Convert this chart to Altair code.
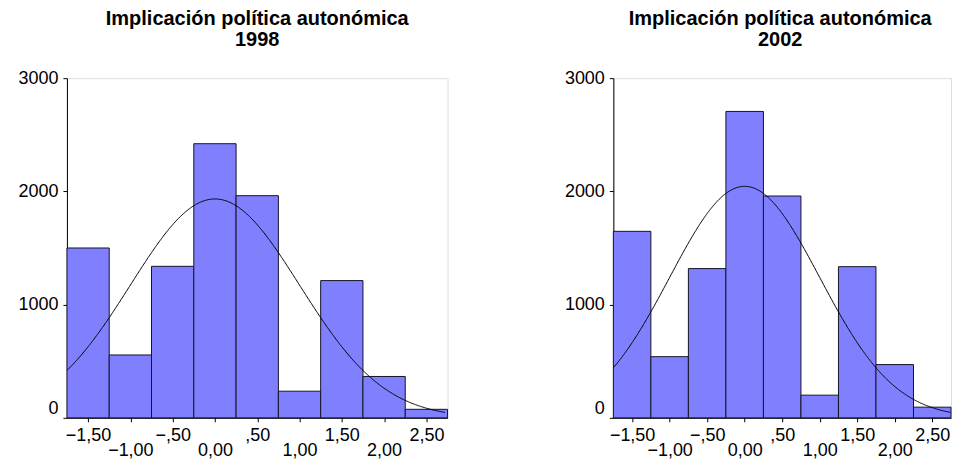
import altair as alt
import pandas as pd

# ---- data ----
bin_centers = [-1.5, -1.0, -0.5, 0.0, 0.5, 1.0, 1.5, 2.0, 2.5]
counts_1998 = [1500, 555, 1338, 2421, 1962, 235, 1212, 365, 75]
counts_2002 = [1647, 540, 1318, 2706, 1959, 200, 1335, 470, 94]
years = ["1998", "2002"]
title_text = "Implicación política autonómica"
y_ticks = [0, 1000, 2000, 3000]
x_ticks = [-1.5, -1.0, -0.5, 0.0, 0.5, 1.0, 1.5, 2.0, 2.5]
# fitted normal curves (N, mean, sd) read from the overlay
curve_n = [9690, 10250]
curve_mean = [0.0, 0.0]
curve_sd = [1.0, 1.0]
curve_end = [2.72, 2.75]

FONT = "Liberation Sans"
BIN_W = 0.5


def panel(counts, year, n, mu, sd, x_end, width, dx):
    df = pd.DataFrame({"center": bin_centers, "count": counts})
    xscale = alt.Scale(domain=[-1.75, 2.75], nice=False, zero=False)
    yscale = alt.Scale(domain=[0, 3000], nice=False, zero=True)
    xaxis = alt.Axis(
        values=x_ticks,
        title=None,
        grid=False,
        tickSize=4,
        tickColor="black",
        domainColor="black",
        labelColor="black",
        labelFont=FONT,
        labelFontSize=18,
        labelFlush=False,
        labelOverlap=False,
        labelBaseline="top",
        labelPadding={
            "condition": {
                "test": "abs(datum.value - round(datum.value)) < 0.01",
                "value": 20,
            },
            "value": 5,
        },
        labelExpr="datum.value == 0 ? '0,00' : replace(replace(format(datum.value, '.2f'), '0.', '.'), '.', ',')",
    )
    yaxis = alt.Axis(
        values=y_ticks,
        format="d",
        title=None,
        grid=False,
        tickSize=4,
        tickColor="black",
        domainColor="black",
        labelColor="black",
        labelFont=FONT,
        labelFontSize=18,
        labelPadding=5,
        labelFlush=False,
        labelBaseline={
            "condition": {"test": "datum.value == 0", "value": "bottom"},
            "value": "middle",
        },
    )
    bars = (
        alt.Chart(df)
        .transform_calculate(
            x0=f"datum.center - {BIN_W / 2}", x1=f"datum.center + {BIN_W / 2}"
        )
        .mark_bar(color="#8080ff", stroke="#141428", strokeWidth=1, opacity=1)
        .encode(
            x=alt.X("x0:Q", scale=xscale, axis=xaxis),
            x2="x1:Q",
            y=alt.Y("count:Q", scale=yscale, axis=yaxis),
            y2=alt.datum(0),
        )
    )
    curve = (
        alt.Chart(alt.sequence(-1.75, x_end, 0.01, as_="x"))
        .transform_calculate(
            y=f"{n} * {BIN_W} * densityNormal(datum.x, {mu}, {sd})"
        )
        .mark_line(color="black", strokeWidth=1, clip=True)
        .encode(x=alt.X("x:Q", scale=xscale), y=alt.Y("y:Q", scale=yscale))
    )
    return alt.layer(bars, curve).properties(
        width=width,
        height=340,
        title=alt.Title(
            [title_text, year],
            font=FONT,
            fontSize=20,
            fontWeight="bold",
            color="black",
            lineHeight=21,
            frame="group",
            anchor="middle",
            offset=19,
            dx=dx,
        ),
    )


left = panel(counts_1998, years[0], curve_n[0], curve_mean[0], curve_sd[0], curve_end[0], 381, 0)
right = panel(counts_2002, years[1], curve_n[1], curve_mean[1], curve_sd[1], curve_end[1], 338, -2)

chart = (
    alt.hconcat(left, right, spacing=115)
    .properties(padding={"left": 9, "top": 0, "right": 0, "bottom": 0})
    .configure_view(stroke="black", strokeWidth=1)
    .configure(background="white")
)

chart.save("out.html", embed_options={"renderer": "svg", "actions": False})
